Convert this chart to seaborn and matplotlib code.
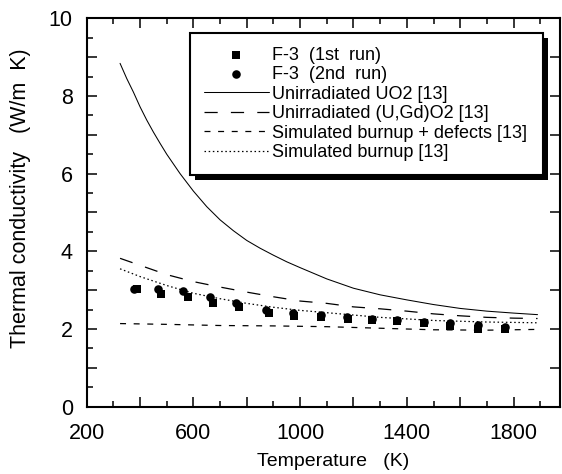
import numpy as np
import pandas as pd
import matplotlib
matplotlib.use('Agg')
import matplotlib.pyplot as plt
import seaborn as sns
from matplotlib.ticker import MultipleLocator, FuncFormatter
from matplotlib.patches import Rectangle
from matplotlib.transforms import IdentityTransform

# measured points
run1_T = [390, 478, 578, 673, 770, 882, 977, 1079, 1178, 1270, 1365, 1465, 1560, 1668, 1768]
run1_k = [3.02, 2.90, 2.83, 2.67, 2.56, 2.42, 2.34, 2.32, 2.27, 2.23, 2.21, 2.15, 2.09, 2.01, 2.00]
run2_T = [378, 466, 561, 663, 761, 873, 975, 1077, 1176, 1270, 1365, 1465, 1560, 1668, 1768]
run2_k = [3.02, 3.03, 2.98, 2.83, 2.67, 2.50, 2.40, 2.35, 2.30, 2.25, 2.22, 2.18, 2.15, 2.10, 2.06]

# reference curves [13]
uo2_T = [325, 350, 375, 400, 425, 450, 475, 500, 550, 600, 650, 700, 750, 800, 850, 900, 950,
         1000, 1100, 1200, 1300, 1400, 1500, 1600, 1700, 1800, 1890]
uo2_k = [8.84, 8.45, 8.10, 7.72, 7.38, 7.07, 6.78, 6.50, 6.00, 5.55, 5.15, 4.81, 4.53, 4.28, 4.08, 3.90, 3.73,
         3.58, 3.29, 3.05, 2.88, 2.75, 2.63, 2.53, 2.46, 2.41, 2.37]
gd_T = [325, 400, 500, 600, 700, 800, 900, 1000, 1100, 1200, 1300, 1400, 1500, 1600, 1700, 1800, 1890]
gd_k = [3.82, 3.64, 3.40, 3.22, 3.08, 2.95, 2.83, 2.72, 2.66, 2.57, 2.52, 2.46, 2.39, 2.34, 2.30, 2.28, 2.27]
def_T = [325, 500, 700, 900, 1100, 1300, 1500, 1700, 1890]
def_k = [2.14, 2.12, 2.09, 2.08, 2.06, 2.02, 1.98, 1.97, 1.99]
sim_T = [325, 400, 500, 600, 700, 800, 900, 1000, 1100, 1200, 1300, 1400, 1500, 1600, 1700, 1800, 1890]
sim_k = [3.55, 3.35, 3.12, 2.92, 2.78, 2.66, 2.56, 2.48, 2.42, 2.36, 2.30, 2.26, 2.22, 2.20, 2.18, 2.17, 2.16]

sns.set_theme(style="ticks", rc={
    'axes.edgecolor': 'black', 'xtick.color': 'black', 'ytick.color': 'black',
    'text.color': 'black', 'axes.labelcolor': 'black'})
plt.rcParams['font.family'] = ['Liberation Sans', 'DejaVu Sans']
plt.rcParams['lines.scale_dashes'] = False

fig = plt.figure(figsize=(5.62, 4.74), dpi=100)
ax = fig.add_axes([0.1543, 0.142, 0.8430, 0.8194])

sns.scatterplot(x=run1_T, y=run1_k, marker='s', s=36, color='black', edgecolor='black',
                linewidth=0, label='F-3  (1st  run)', ax=ax, zorder=3)
sns.scatterplot(x=run2_T, y=run2_k, marker='o', s=38, color='black', edgecolor='black',
                linewidth=0, label='F-3  (2nd  run)', ax=ax, zorder=3)
sns.lineplot(x=uo2_T, y=uo2_k, color='black', lw=0.75, label='Unirradiated UO2 [13]', ax=ax)
sns.lineplot(x=gd_T, y=gd_k, color='black', lw=0.9, linestyle=(0, (9.5, 9.5)),
             label='Unirradiated (U,Gd)O2 [13]', ax=ax)
sns.lineplot(x=def_T, y=def_k, color='black', lw=0.9, linestyle=(0, (4.3, 5.5)),
             label='Simulated burnup + defects [13]', ax=ax)
sns.lineplot(x=sim_T, y=sim_k, color='black', lw=0.9, linestyle=(0, (1.1, 1.9)),
             label='Simulated burnup [13]', ax=ax)

ax.set_xlim(200, 1976)
ax.set_ylim(0, 10)
ax.xaxis.set_major_locator(MultipleLocator(200))
ax.xaxis.set_minor_locator(MultipleLocator(100))
ax.xaxis.set_major_formatter(FuncFormatter(lambda v, p: f"{v:.0f}" if int(round(v)) % 400 == 200 else ""))
ax.yaxis.set_major_locator(MultipleLocator(1))
ax.yaxis.set_minor_locator(MultipleLocator(0.5))
ax.yaxis.set_major_formatter(FuncFormatter(lambda v, p: f"{v:.0f}" if int(round(v)) % 2 == 0 else ""))

ax.tick_params(which='both', direction='in', top=True, right=True, width=1.1, labelsize=15.5)
ax.tick_params(which='major', length=7.5)
ax.tick_params(which='minor', length=4)
ax.tick_params(which='minor', right=False)
ax.tick_params(axis='x', pad=12)
ax.tick_params(axis='y', pad=10)
for sp in ax.spines.values():
    sp.set_linewidth(1.5)

ax.set_xlabel('Temperature   (K)', fontsize=14)
ax.set_ylabel('Thermal conductivity   (W/m  K)', fontsize=15.5)
ax.xaxis.set_label_coords(0.52, -0.12)
ax.yaxis.set_label_coords(-0.118, 0.537)

leg = ax.legend(loc='upper left', bbox_to_anchor=(0.218, 0.962, 0.745, 0.0), mode='expand',
                fontsize=13, frameon=True, fancybox=False, edgecolor='black', facecolor='white',
                framealpha=1, handlelength=3.6, handletextpad=0.2, labelspacing=0.14,
                borderpad=0.75, borderaxespad=0, markerscale=1.0)
leg.get_frame().set_linewidth(1.5)
leg.set_zorder(5)

# thick drop shadow like the original
fig.canvas.draw()
bb = leg.get_window_extent()
shadow = Rectangle((bb.x0 + 5, bb.y0 - 5), bb.width, bb.height, transform=IdentityTransform(),
                   facecolor='black', edgecolor='none', zorder=4.5, clip_on=False)
ax.add_artist(shadow)

fig.savefig('out.png', dpi=100)
